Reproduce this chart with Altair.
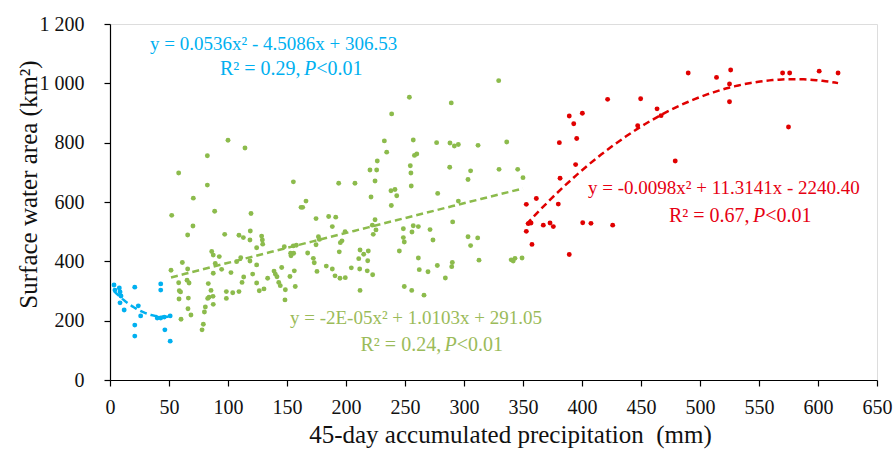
import altair as alt
import pandas as pd

# ---------------- data ----------------
blue_x = [3.4, 4.2, 7.9, 8.5, 9.3, 8.5, 12, 21, 24, 26, 21, 21, 43, 43, 40, 43, 46, 51, 46.5, 51]
blue_y = [320, 303, 310, 297, 283, 260, 236, 313, 250, 216, 185, 148, 324, 303, 209, 209, 212, 216, 169, 131]

green_x = [100, 114.4, 82.5, 58.2, 82.5, 70.6, 88.7, 52.3, 119.5, 70.3, 65.8, 97.2, 109.3, 113, 118.9,
           118.6, 86.2, 87.5, 92.6, 89.2, 61.3, 51.7, 65.8, 87.5, 94.6, 102.5, 110.8, 107.3, 118.6, 124.3,
           120.9, 113.3, 111.9, 58.2, 65.3, 67, 83.3, 85.6, 58.7, 59.8, 66.4, 58.5, 83.9, 87.3, 82.8,
           98.6, 98.6, 104, 109.3, 87.5, 80.8, 80, 66.1, 68.6, 60.2, 79.1, 78, 124.3, 126.5,
           155.4, 193.8, 207.6, 166.1, 161.9, 163.3, 174.6, 185.3, 191.3, 188.4, 199.2, 128.5, 129.1, 129.4,
           124.3, 176.6, 177.4, 174.6, 196.6, 195.2, 147.7, 155.3, 157.9, 153.1, 155.6, 153.4, 194.3, 167.5,
           172.3, 173.1, 145.5, 139, 140.1, 141.5, 133.6, 152.5, 156.2, 183.3, 188.4, 175.4, 190.7, 194.9,
           199.4, 204.5, 143, 144.3, 148.6, 157, 130.5, 148.3,
           253.7, 238.7, 232.5, 257, 276.8, 234.5, 258, 260, 226.5, 220.3, 226, 254.5, 255, 224.6, 255.3,
           238.1, 241.5, 243, 221.2, 277.7, 238.4, 224.6, 222.3, 225.4, 223.1, 248.6, 257, 261.3, 255.9,
           271.2, 273.7, 248.6, 249.4, 245.2, 211.9, 215, 218.9, 210.8, 218.4, 211.6, 218, 222.6, 261.3,
           262.1, 269.5, 277.4, 284.2, 211.9, 249.4, 255.7, 266.1,
           329.4, 289.2, 288.1, 291.8, 295.2, 311.9, 336.2, 287.9, 305.6, 303.4, 329.7, 345.5, 350, 295.2,
           290.4, 303.4, 311.6, 305.6, 290.1, 289.6, 312.7, 340, 341.7, 343.2, 349.2]
green_y = [808, 782, 756, 698, 657, 613, 569, 555, 561, 519, 489, 491, 488, 480, 502,
           472, 433, 421, 416, 393, 396, 370, 374, 360, 373, 362, 412, 399, 401, 388,
           357, 347, 329, 328, 336, 327, 325, 302, 301, 297, 276, 273, 279, 282, 275,
           298, 275, 294, 298, 255, 246, 229, 240, 219, 205, 188, 169, 327, 301,
           668, 663, 663, 603, 582, 582, 544, 551, 549, 517, 500, 485, 472, 458,
           446, 483, 474, 456, 469, 463, 449, 452, 454, 427, 427, 419, 432, 428,
           410, 395, 379, 367, 357, 348, 343, 349, 368, 384, 374, 366, 351, 343,
           345, 378, 329, 318, 304, 315, 307, 270,
           953, 897, 806, 809, 800, 768, 757, 762, 738, 708, 708, 722, 698, 671, 654,
           638, 642, 621, 617, 629, 588, 540, 522, 506, 491, 510, 520, 517, 499,
           507, 472, 480, 465, 435, 438, 424, 435, 409, 402, 374, 368, 355, 411,
           372, 365, 386, 344, 302, 315, 302, 286,
           1009, 934, 799, 789, 794, 791, 802, 717, 705, 676, 710, 710, 682, 603,
           533, 483, 479, 453, 396, 382, 404, 405, 401, 410, 411]

red_x = [352.8, 361.3, 354.5, 356.8, 352.8, 367.2, 357.6, 421.7, 449.7, 463.6, 467, 389.2, 400.3, 393,
         447.2, 380.8, 395.5, 394.6, 381.4, 379.9, 372.9, 375.7, 400.6, 407.6, 426, 389.2,
         479, 490, 514, 526, 525, 525, 570, 576, 575, 601, 617]
red_y = [592, 612, 527, 529, 501, 522, 457, 946, 948, 914, 891, 890, 899, 864,
         857, 800, 814, 726, 680, 593, 529, 517, 530, 528, 522, 423,
         738, 1035, 1020, 1045, 998, 938, 1035, 1035, 853, 1041, 1035]

groups = ["blue", "green", "red"]
point_colors = ["#00b0f0", "#8cbb4c", "#e00000"]
text_colors = {"blue": "#00b0f0", "green": "#9bbb59", "red": "#e60012"}

# annotation texts (positions in data units)
ann_text = ["y = 0.0536x\u00b2 - 4.5086x + 306.53", "R\u00b2 = 0.29,", "P", "<0.01",
            "y = -2E-05x\u00b2 + 1.0103x + 291.05", "R\u00b2 = 0.24,", "P", "<0.01",
            "y = -0.0098x\u00b2 + 11.3141x - 2240.40", "R\u00b2 = 0.67,", "P", "<0.01"]
ann_x = [33.9, 93.2, 164.4, 174.8,
         152.5, 212.3, 283.5, 293.9,
         405.1, 473.7, 544.9, 555.3]
ann_y = [1132, 1048, 1048, 1048,
         209, 118, 118, 118,
         647, 553, 553, 553]
ann_group = ["blue"] * 4 + ["green"] * 4 + ["red"] * 4
ann_italic = [False, False, True, False] * 3
ann_size = [19, 20, 20, 20] * 3

# ---------------- build tables ----------------
df = pd.concat([
    pd.DataFrame({"x": blue_x, "y": blue_y, "group": "blue"}),
    pd.DataFrame({"x": green_x, "y": green_y, "group": "green"}),
    pd.DataFrame({"x": red_x, "y": red_y, "group": "red"}),
], ignore_index=True)

ann = pd.DataFrame({"text": ann_text, "x": ann_x, "y": ann_y, "group": ann_group,
                    "italic": ann_italic, "size": ann_size})
ann["color"] = ann["group"].map(text_colors)

FONT = "Liberation Serif"

xscale = alt.Scale(domain=[0, 650], nice=False, zero=True)
yscale = alt.Scale(domain=[0, 1200], nice=False, zero=True)
color = alt.Color("group:N", scale=alt.Scale(domain=groups, range=point_colors), legend=None)

xaxis = alt.Axis(values=list(range(0, 651, 50)), title="45-day accumulated precipitation\u00a0 (mm)",
                 grid=False, domainColor="black", tickColor="black", tickSize=6, domainWidth=1.2,
                 tickWidth=1.2, labelFont=FONT, labelFontSize=20, labelColor="#111111",
                 labelPadding=11, titleFont=FONT, titleFontSize=25, titleFontWeight="normal",
                 titleColor="#111111", titleX=400, titleY=54, titleBaseline="middle",
                 titleAlign="center", labelFlush=False)
yaxis = alt.Axis(values=list(range(0, 1201, 200)), title="Surface water area (km\u00b2)",
                 labelExpr="datum.value >= 1000 ? (floor(datum.value/1000) + ' ' + format(datum.value % 1000, '03d')) : format(datum.value, 'd')",
                 grid=False, domainColor="black", tickColor="black", tickSize=6, domainWidth=1.2,
                 tickWidth=1.2, labelFont=FONT, labelFontSize=20, labelColor="#111111",
                 labelPadding=20, titleFont=FONT, titleFontSize=25, titleFontWeight="normal",
                 titleColor="#111111", titleX=-82, titleY=160, titleBaseline="middle",
                 titleAlign="center", titleAngle=270, labelFlush=False)

points = alt.Chart(df).mark_circle(size=24, opacity=1).encode(
    x=alt.X("x:Q", scale=xscale, axis=xaxis),
    y=alt.Y("y:Q", scale=yscale, axis=yaxis),
    color=color,
)

fits = alt.Chart(df).transform_regression(
    "x", "y", method="poly", order=2, groupby=["group"]
).mark_line(strokeDash=[7, 4], strokeWidth=2.5).encode(
    x=alt.X("x:Q", scale=xscale),
    y=alt.Y("y:Q", scale=yscale),
    color=color,
)

txt_normal = alt.Chart(ann).transform_filter("!datum.italic").mark_text(
    font=FONT, align="left", baseline="middle"
).encode(
    x=alt.X("x:Q", scale=xscale), y=alt.Y("y:Q", scale=yscale),
    text="text:N", color=alt.Color("color:N", scale=None),
    size=alt.Size("size:Q", scale=None, legend=None),
)
txt_italic = alt.Chart(ann).transform_filter("datum.italic").mark_text(
    font=FONT, align="left", baseline="middle", fontStyle="italic"
).encode(
    x=alt.X("x:Q", scale=xscale), y=alt.Y("y:Q", scale=yscale),
    text="text:N", color=alt.Color("color:N", scale=None),
    size=alt.Size("size:Q", scale=None, legend=None),
)

chart = alt.layer(fits, points, txt_normal, txt_italic).properties(
    width=767, height=356,
    autosize=alt.AutoSizeParams(type="none"),
    padding={"left": 110, "top": 24, "right": 19, "bottom": 70},
).configure_view(stroke=None).configure(background="white")

chart.save("out.html", embed_options={"renderer": "svg", "actions": False})
